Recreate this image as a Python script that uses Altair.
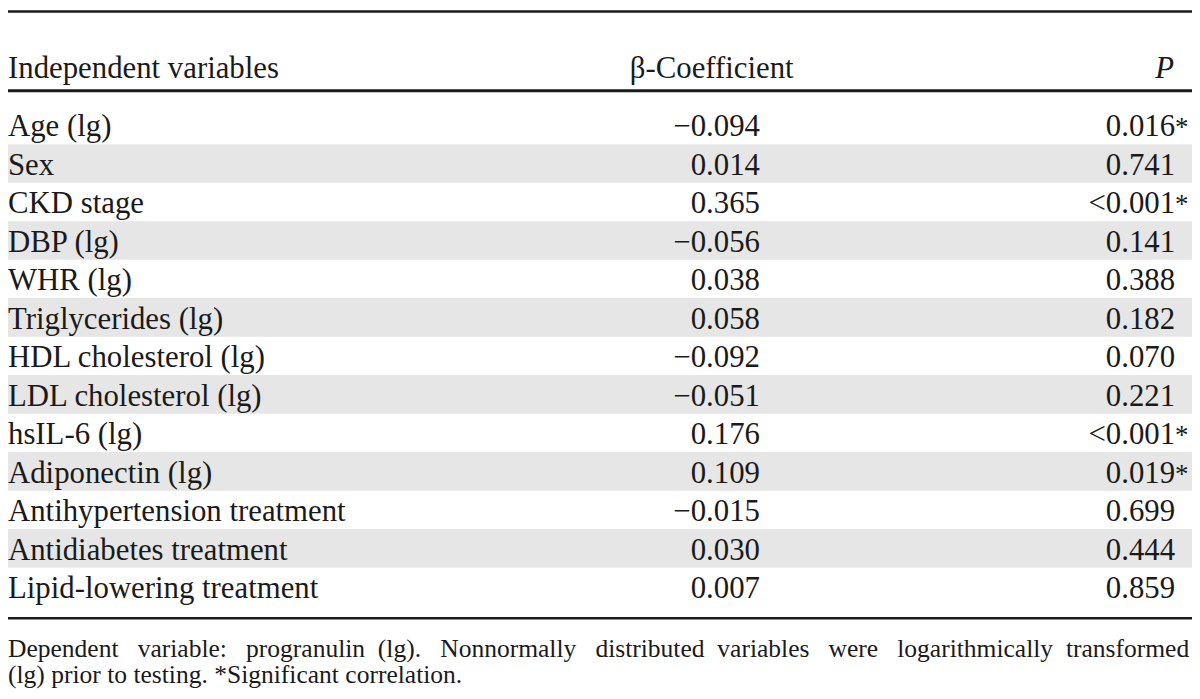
import altair as alt
import pandas as pd

# ---------------- data ----------------
variables = [
    "Age (lg)", "Sex", "CKD stage", "DBP (lg)", "WHR (lg)", "Triglycerides (lg)",
    "HDL cholesterol (lg)", "LDL cholesterol (lg)", "hsIL-6 (lg)", "Adiponectin (lg)",
    "Antihypertension treatment", "Antidiabetes treatment", "Lipid-lowering treatment",
]
beta = [-0.094, 0.014, 0.365, -0.056, 0.038, 0.058, -0.092, -0.051, 0.176, 0.109,
        -0.015, 0.030, 0.007]
p_text = ["0.016", "0.741", "<0.001", "0.141", "0.388", "0.182", "0.070", "0.221",
          "<0.001", "0.019", "0.699", "0.444", "0.859"]
significant = [True, False, True, False, False, False, False, False, True, True,
               False, False, False]
headers = ["Independent variables", "\u03b2-Coefficient", "P"]
footnote = [
    "Dependent variable: progranulin (lg). Nonnormally distributed variables were logarithmically transformed",
    "(lg) prior to testing. *Significant correlation.",
]

# ---------------- layout ----------------
W, H = 1192, 691
ROW0, PITCH = 127.0, 38.75  # baseline of first row (plot px), row pitch


def u(px):
    return (px - ROW0) / PITCH


FONT = "Liberation Serif"
INK = "#1a1a1a"
FS = 31
ys = alt.Scale(domain=[u(0), u(H)], reverse=True, nice=False, zero=False)

rows = pd.DataFrame({
    "row": list(range(len(variables))),
    "var": variables,
    "beta": [("\u2212" if b < 0 else "") + f"{abs(b):.3f}" for b in beta],
    "p": p_text,
    "star": ["*" if s else "" for s in significant],
})

base = alt.Chart(rows)

bands = base.transform_filter("datum.row % 2 == 1").transform_calculate(
    y1="datum.row - 0.8", y2="datum.row + 0.205"
).mark_rect(color="#e6e6e6").encode(
    x=alt.value(0), x2=alt.value(W),
    y=alt.Y("y1:Q", scale=ys, axis=None), y2="y2:Q",
)

rule_df = pd.DataFrame({"y": [u(1.2), u(81), u(612)], "w": [2.5, 3.0, 2.5]})
rules = alt.Chart(rule_df).mark_rule(color=INK).encode(
    x=alt.value(0), x2=alt.value(W),
    y=alt.Y("y:Q", scale=ys, axis=None),
    strokeWidth=alt.StrokeWidth("w:Q", scale=None),
)


def txt(align, x, field, size=FS, style="normal"):
    return base.mark_text(align=align, baseline="alphabetic", font=FONT,
                          fontSize=size, color=INK, fontStyle=style).encode(
        x=alt.value(x), y=alt.Y("row:Q", scale=ys, axis=None), text=f"{field}:N")


col_var = txt("left", 0, "var")
col_beta = txt("right", 757, "beta")
col_p = txt("right", 1175, "p")
col_star = txt("left", 1175, "star", size=27)

hdr_df = pd.DataFrame({"h": headers, "y": [u(68)] * 3, "k": [0, 1, 2]})


def hdr(k, align, x, style="normal"):
    return alt.Chart(hdr_df).transform_filter(f"datum.k == {k}").mark_text(
        align=align, baseline="alphabetic", font=FONT, fontSize=FS, color=INK,
        fontStyle=style).encode(
        x=alt.value(x), y=alt.Y("y:Q", scale=ys, axis=None), text="h:N")


h0 = hdr(0, "left", 0)
h1 = hdr(1, "left", 626)
h2 = hdr(2, "right", 1174, "italic")

# first footnote line is justified in the reference: widen its word spaces
words = footnote[0].split(" ")
line1 = words[0]
for k, w in enumerate(words[1:]):
    line1 += ("\u00a0" * (2 if k in (2, 5, 8) else 3)) + w
foot_lines = [line1, footnote[1]]
foot_df = pd.DataFrame({"t": foot_lines, "y": [u(651), u(677)]})
foot = alt.Chart(foot_df).mark_text(
    align="left", baseline="alphabetic", font=FONT, fontSize=25.7, color=INK).encode(
    x=alt.value(0), y=alt.Y("y:Q", scale=ys, axis=None), text="t:N")

chart = alt.layer(bands, rules, col_var, col_beta, col_p, col_star, h0, h1, h2, foot).properties(
    width=W, height=H, padding=0, autosize=alt.AutoSizeParams(type="none"),
    background="white",
).configure_view(stroke=None)

chart.save("out.html", embed_options={"renderer": "svg", "actions": False})
